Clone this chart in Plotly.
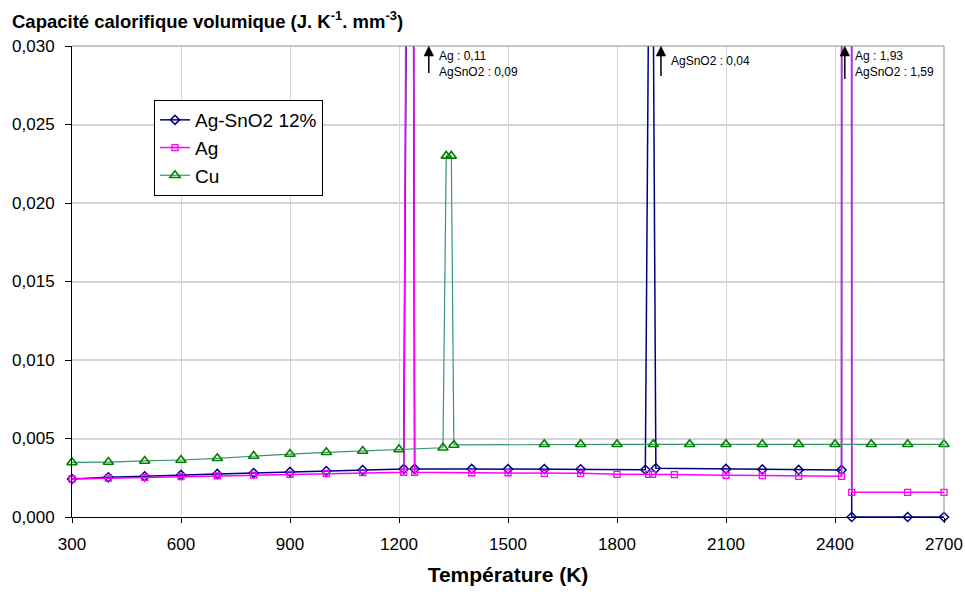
import plotly.graph_objects as go

# ---- data ----
agsno2_T = [300, 400, 500, 600, 700, 800, 900, 1000, 1100, 1213, 1234, 1243,
            1400, 1500, 1600, 1700, 1878, 1889, 1898, 1907, 2100, 2200, 2300,
            2418, 2435, 2446, 2600, 2700]
agsno2_C = [0.00242, 0.00253, 0.00259, 0.00268, 0.00274, 0.00280, 0.00287, 0.00293,
            0.00299, 0.00306, 0.09, 0.00306, 0.00306, 0.00305, 0.00305, 0.00304,
            0.00301, 0.04, 0.04, 0.00310, 0.00306, 0.00303, 0.00300,
            0.00300, 1.59, 0.0, 0.0, 0.0]

ag_T = [300, 400, 500, 600, 700, 800, 900, 1000, 1100, 1213, 1234, 1243,
        1400, 1500, 1600, 1700, 1800, 1887, 1898, 1958, 2100, 2200, 2300,
        2418, 2435, 2446, 2600, 2700]
ag_C = [0.00242, 0.00247, 0.00252, 0.00258, 0.00262, 0.00267, 0.00272, 0.00277,
        0.00283, 0.00285, 0.11, 0.00285, 0.00282, 0.00282, 0.00278, 0.00278,
        0.00272, 0.00272, 0.00272, 0.00270, 0.00266, 0.00263, 0.00259,
        0.00259, 1.93, 0.00157, 0.00157, 0.00157]

cu_T = [300, 400, 500, 600, 700, 800, 900, 1000, 1100, 1200, 1321, 1330, 1344,
        1351, 1600, 1700, 1800, 1900, 2000, 2100, 2200, 2300, 2400, 2500, 2600, 2700]
cu_C = [0.00348, 0.00350, 0.00357, 0.00363, 0.00374, 0.00389, 0.00401, 0.00412,
        0.00420, 0.00431, 0.00441, 0.0230, 0.0230, 0.00459, 0.00463, 0.00463,
        0.00463, 0.00463, 0.00463, 0.00463, 0.00463, 0.00463, 0.00463, 0.00463,
        0.00463, 0.00463]

x_ticks = [300, 600, 900, 1200, 1500, 1800, 2100, 2400, 2700]
x_tick_labels = ["300", "600", "900", "1200", "1500", "1800", "2100", "2400", "2700"]
y_ticks = [0.000, 0.005, 0.010, 0.015, 0.020, 0.025, 0.030]

# off-scale peak notes: (temperature of arrow, text)
notes_T = [1282, 1921, 2427]
notes_text = ["Ag : 0,11<br>AgSnO2 : 0,09", "AgSnO2 : 0,04", "Ag : 1,93<br>AgSnO2 : 1,59"]

FONT = "Liberation Sans, Arial, sans-serif"
Y_TOP = 0.030
PX_Y = Y_TOP / 471.0       # data units per vertical pixel
PX_X = 2400 / 872.0        # data units per horizontal pixel

fig = go.Figure()
fig.add_trace(go.Scatter(
    x=agsno2_T, y=agsno2_C, name="Ag-SnO2 12%", mode="lines+markers",
    line=dict(color="#000080", width=1.5),
    marker=dict(symbol="diamond-open", size=7, color="#000080", line=dict(width=1.5)),
    cliponaxis=False))
fig.add_trace(go.Scatter(
    x=ag_T, y=ag_C, name="Ag", mode="lines+markers",
    line=dict(color="#FF00FF", width=1.5),
    marker=dict(symbol="square-open", size=6, color="#FF00FF", line=dict(width=1.3)),
    cliponaxis=False))
fig.add_trace(go.Scatter(
    x=cu_T, y=cu_C, name="Cu", mode="lines+markers",
    line=dict(color="#339966", width=1.2),
    marker=dict(symbol="triangle-up-open", size=9, color="#008000", line=dict(width=1.6)),
    cliponaxis=False))

annotations = [dict(
    text="Capacité calorifique volumique (J. K<sup>-1</sup>. mm<sup>-3</sup>)",
    xref="paper", yref="paper", x=-62 / 872, y=1 + 26 / 471, xanchor="left", yanchor="middle",
    showarrow=False, font=dict(family=FONT, size=18.5, color="black", weight="bold"))]

shapes = [dict(type="path", xref="paper", yref="paper",
               path="M 0 1 L 1 1 L 1 0", line=dict(color="#8c8c8c", width=1), layer="above")]

tails = [27, 30, 33]
for t, txt, tail in zip(notes_T, notes_text, tails):
    tip = Y_TOP - 0.3 * PX_Y
    base = Y_TOP - 10 * PX_Y
    hw = 4.8 * PX_X
    shapes.append(dict(type="line", xref="x", yref="y", x0=t, x1=t,
                       y0=Y_TOP - tail * PX_Y, y1=base + 1 * PX_Y,
                       line=dict(color="black", width=1.5), layer="above"))
    shapes.append(dict(type="path", xref="x", yref="y",
                       path=f"M {t - hw} {base} L {t} {tip} L {t + hw} {base} Z",
                       fillcolor="black", line=dict(color="black", width=0.5), layer="above"))
    two = "<br>" in txt
    annotations.append(dict(
        x=t + 8.5 * PX_X, y=(Y_TOP - 18 * PX_Y) if two else (Y_TOP - 15 * PX_Y),
        xref="x", yref="y", text=txt, showarrow=False, xanchor="left", yanchor="middle",
        align="left", font=dict(family=FONT, size=12, color="black")))

fig.update_layout(
    width=965, height=592,
    margin=dict(l=72, r=21, t=46, b=75, autoexpand=False),
    paper_bgcolor="white", plot_bgcolor="white",
    separators=",.",
    font=dict(family=FONT, color="black"),
    showlegend=True,
    legend=dict(x=(154 - 72) / 872, y=(517 - 100) / 471, xanchor="left", yanchor="top",
                bgcolor="white", bordercolor="black", borderwidth=1,
                font=dict(family=FONT, size=19, color="black"), tracegroupgap=0),
    annotations=annotations,
    shapes=shapes,
    xaxis=dict(range=[300, 2700], tickvals=x_ticks, ticktext=x_tick_labels,
               showgrid=True, gridcolor="#d4d4d4", gridwidth=1,
               showline=True, linecolor="black", linewidth=1,
               ticks="outside", ticklen=5, tickcolor="black", ticklabelstandoff=7,
               tickfont=dict(family=FONT, size=17, color="black"),
               title=dict(text="<b>Température (K)</b>", standoff=13,
                          font=dict(family=FONT, size=21, color="black")),
               zeroline=False, automargin=False),
    yaxis=dict(range=[0, Y_TOP], tickvals=y_ticks, tickformat=".3f",
               showgrid=True, gridcolor="#d4d4d4", gridwidth=1.5,
               showline=True, linecolor="black", linewidth=1,
               ticks="outside", ticklen=6, tickcolor="black", ticklabelstandoff=7,
               tickfont=dict(family=FONT, size=17, color="black"),
               zeroline=False, automargin=False),
)

fig.write_html(
    "out.html",
    config={"displayModeBar": False},
    post_script="document.body.style.margin='0';document.body.style.overflow='hidden';",
)
